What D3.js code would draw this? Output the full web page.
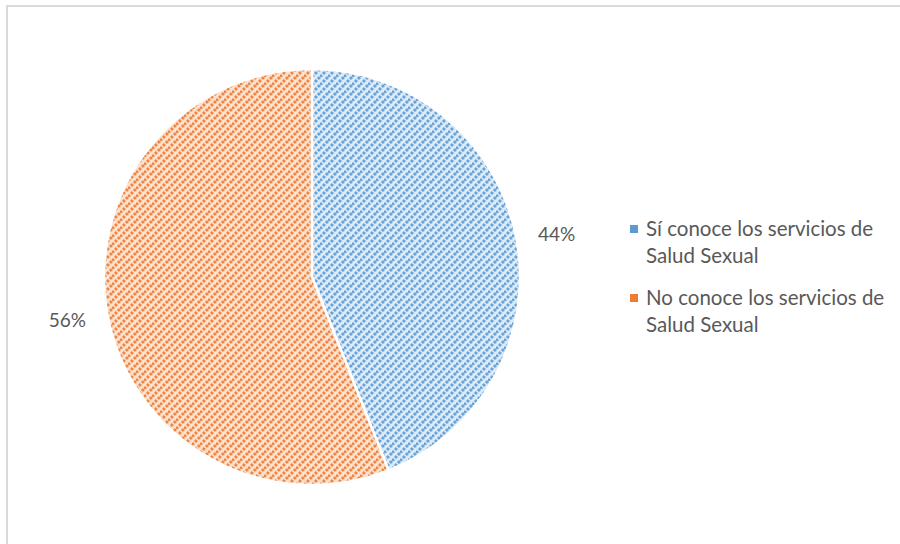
<!DOCTYPE html>
<html>
<head>
<meta charset="utf-8">
<script src="https://cdn.jsdelivr.net/npm/d3@7"></script>
<style>
  body { margin: 0; background: #fff; }
  text { font-family: Lato, "Open Sans", sans-serif; fill: #595959; }
</style>
</head>
<body>
<div id="chart"></div>
<script>
// data
var categories = ["Sí conoce los servicios de Salud Sexual", "No conoce los servicios de Salud Sexual"];
var legendLines = [["Sí conoce los servicios de", "Salud Sexual"], ["No conoce los servicios de", "Salud Sexual"]];
var values = [44, 56];
var colors = ["#5b9bd5", "#ed7d31"];
var lightColors = ["#dce9f6", "#fbe0cf"];

var width = 900, height = 544;
var cx = 312, cy = 277, radius = 208;

var svg = d3.select("#chart").append("svg")
    .attr("width", width)
    .attr("height", height);

// chart border
svg.append("rect")
    .attr("x", 7).attr("y", 6)
    .attr("width", width).attr("height", height)
    .attr("fill", "none")
    .attr("stroke", "#d9d9d9")
    .attr("stroke-width", 2);

// hatched patterns
var defs = svg.append("defs");
colors.forEach(function(c, i) {
    var p = defs.append("pattern")
        .attr("id", "pat" + i)
        .attr("patternUnits", "userSpaceOnUse")
        .attr("width", 8).attr("height", 8);
    p.append("rect").attr("width", 8).attr("height", 8).attr("fill", lightColors[i]);
    p.append("path")
        .attr("d", "M-2,2 L2,-2 M0,8 L8,0 M6,10 L10,6")
        .attr("stroke", c)
        .attr("stroke-width", 2.8)
        .attr("stroke-dasharray", "2.8,1.4")
        .attr("opacity", 0.9);
});

var pie = d3.pie().sort(null).value(function(d) { return d; });
var arc = d3.arc().innerRadius(0).outerRadius(radius);
var arcs = pie(values);

var g = svg.append("g").attr("transform", "translate(" + cx + "," + cy + ")");

g.selectAll(".slice")
    .data(arcs)
  .enter().append("path")
    .attr("class", "slice")
    .attr("d", arc)
    .attr("fill", function(d, i) { return "url(#pat" + i + ")"; })
    .attr("stroke", "#fff")
    .attr("stroke-width", 2.5);

// percentage labels outside slices
g.selectAll(".pct")
    .data(arcs)
  .enter().append("text")
    .attr("class", "pct")
    .attr("transform", function(d) {
        var a = (d.startAngle + d.endAngle) / 2;
        var r = radius + 22;
        var x = Math.sin(a) * r, y = -Math.cos(a) * r;
        return "translate(" + x + "," + y + ")";
    })
    .attr("text-anchor", function(d) { return (d.startAngle + d.endAngle) / 2 < Math.PI ? "start" : "end"; })
    .attr("dy", "0.35em")
    .style("font-size", "19px")
    .text(function(d) { return d.data + "%"; });

// legend
var legend = svg.selectAll(".legend")
    .data(categories)
  .enter().append("g")
    .attr("class", "legend")
    .attr("transform", function(d, i) { return "translate(630," + (229 + i * 69) + ")"; });

legend.append("rect")
    .attr("x", 0).attr("y", -4)
    .attr("width", 8).attr("height", 8)
    .attr("fill", function(d, i) { return colors[i]; });

legend.each(function(d, i) {
    var t = d3.select(this).append("text")
        .attr("x", 16)
        .attr("y", 0)
        .style("font-size", "20.5px");
    legendLines[i].forEach(function(line, j) {
        t.append("tspan").attr("x", 16).attr("dy", j === 0 ? "0.35em" : "27px").text(line);
    });
});
</script>
</body>
</html>
